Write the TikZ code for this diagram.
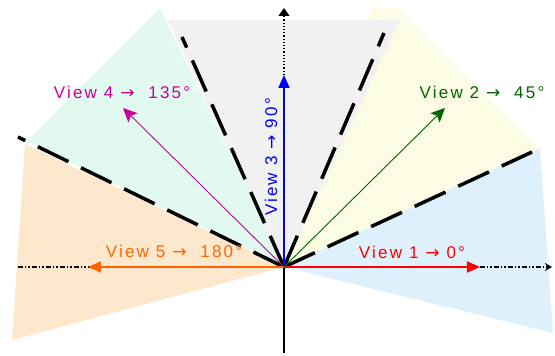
\documentclass[tikz,border=0pt]{standalone}
\usepackage{fontspec}
\setmainfont{Liberation Sans}[LetterSpace=13]
\newfontfamily\arrowfont{DejaVu Sans}
\newcommand{\viewto}{{\arrowfont →}}
\usetikzlibrary{arrows.meta}
\definecolor{viewred}{RGB}{255, 0, 0}
\definecolor{vieworange}{RGB}{255, 102, 0}
\definecolor{viewblue}{RGB}{0, 0, 255}
\definecolor{viewgreen}{RGB}{0, 100, 0}
\definecolor{viewmagenta}{RGB}{204, 0, 153}
\definecolor{fillblue}{RGB}{222, 240, 252}
\definecolor{fillyellow}{RGB}{252, 252, 228}
\definecolor{fillgray}{RGB}{241, 241, 241}
\definecolor{fillmint}{RGB}{226, 249, 239}
\definecolor{fillorange}{RGB}{253, 232, 206}

\begin{document}
\begin{tikzpicture}[
    x=1pt, y=1pt,
    view/.style={line width=2pt, -{Triangle[length=13pt, width=11pt]}},
    thinview/.style={line width=0.9pt, -{Stealth[length=14pt, width=13pt, inset=3pt]}},
    lbl/.style={font=\fontsize{17}{19}\selectfont, inner sep=0pt},
    border/.style={line width=3.5pt, dash pattern=on 34pt off 14pt},
    axis/.style={line width=1.4pt}
]
    \useasboundingbox (-284,-89) rectangle (271,267);

    \coordinate (O) at (0,0);

    % sectors of view
    \fill[fillorange] (O) -- (-259,123) -- (-272,-73) -- cycle;
    \fill[fillblue] (O) -- (256,119) -- (269,-66) -- cycle;
    \fill[fillmint] (O) -- (-124,259) -- (-257,126) -- cycle;
    \fill[fillyellow] (O) -- (89,259) -- (113,259) -- (254,119) -- cycle;
    \fill[fillgray] (O) -- (-116,247) -- (116,247) -- cycle;
    \fill[fillyellow] (89,259) -- (113,259) -- (101,247) -- (84,247) -- cycle;

    % sector borders
    \coordinate (d1) at (248,115);
    \coordinate (d2) at (100,234);
    \coordinate (d3) at (-102,230);
    \coordinate (d4) at (-266,130);
    \draw[border] (O) -- (d1);
    \draw[border] (O) -- (d2);
    \draw[border] (O) -- (d3);
    \draw[border] (O) -- (d4);

    % axes
    \coordinate (xl) at (-266,0);
    \coordinate (xr) at (268,0);
    \coordinate (yb) at (0,-86);
    \coordinate (yt) at (0,259);
    \coordinate (v1) at (196,0);
    \coordinate (v2) at (161,159);
    \coordinate (v3) at (0,192);
    \coordinate (v4) at (-161,159);
    \coordinate (v5) at (-196,0);
    \draw[axis, dash pattern=on 5pt off 2pt on 1.5pt off 2pt on 1.5pt off 2pt,
          -{Stealth[length=7pt, width=8pt]}] (xl) -- (xr);
    \draw[line width=2pt] (O) -- (yb);
    \draw[line width=1.2pt, dotted, -{Triangle[length=8pt, width=11pt]}] (v3) -- (yt);

    % views
    \draw[view, viewred] (O) -- (v1);
    \draw[view, vieworange] (O) -- (v5);
    \draw[view, viewblue] (O) -- (v3);
    \draw[thinview, viewgreen] (O) -- (v2);
    \draw[thinview, viewmagenta] (O) -- (v4);

    \node[lbl, text=viewred] (lbl1) at (128,15) {View 1 \viewto\ 0°};
    \node[lbl, text=viewgreen] (lbl2) at (198,175) {View 2 \viewto\ \ 45°};
    \node[lbl, text=viewblue, rotate=90] (lbl3) at (-13,110) {View 3 \viewto\ 90°};
    \node[lbl, text=viewmagenta] (lbl4) at (-162,175) {View 4 \viewto\ \ 135°};
    \node[lbl, text=vieworange] (lbl5) at (-110,16) {View 5 \viewto\ \ 180°};
\end{tikzpicture}
\end{document}
